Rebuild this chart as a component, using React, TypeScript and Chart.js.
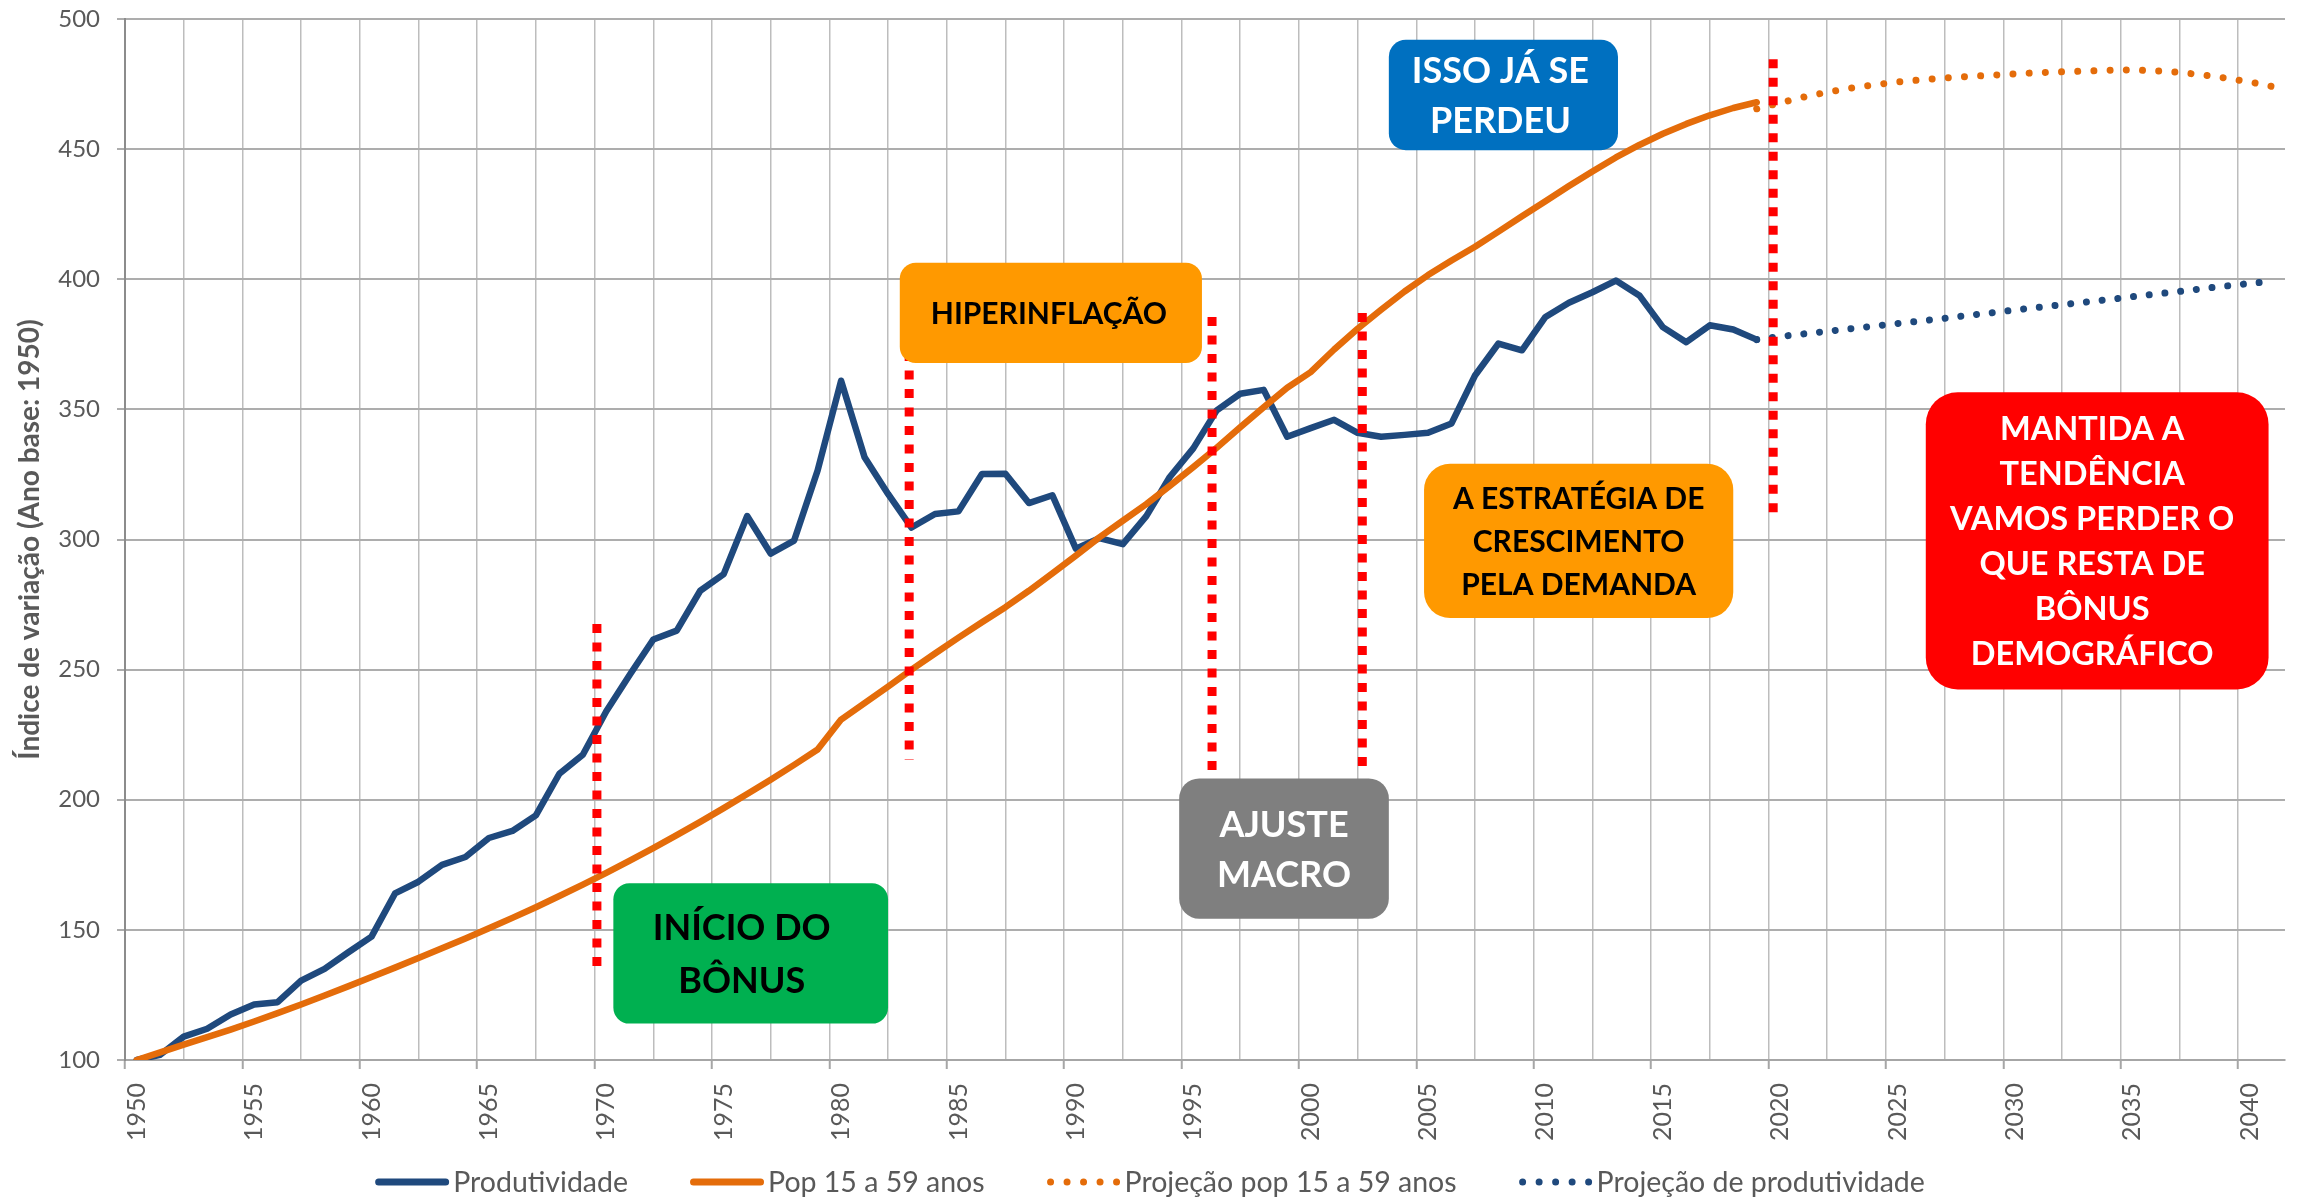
import React, { useEffect, useRef } from 'react';
import { Chart, registerables } from 'chart.js';

Chart.register(...registerables);

// ---------- DATA ----------
const YEARS_HIST = [
  1950, 1951, 1952, 1953, 1954, 1955, 1956, 1957, 1958, 1959,
  1960, 1961, 1962, 1963, 1964, 1965, 1966, 1967, 1968, 1969,
  1970, 1971, 1972, 1973, 1974, 1975, 1976, 1977, 1978, 1979,
  1980, 1981, 1982, 1983, 1984, 1985, 1986, 1987, 1988, 1989,
  1990, 1991, 1992, 1993, 1994, 1995, 1996, 1997, 1998, 1999,
  2000, 2001, 2002, 2003, 2004, 2005, 2006, 2007, 2008, 2009,
  2010, 2011, 2012, 2013, 2014, 2015, 2016, 2017, 2018, 2019,
];

const PRODUTIVIDADE = [
  100, 102, 109, 112, 117.5, 121.3, 122.2, 130.5, 135, 141.3,
  147.4, 164, 168.5, 175, 178, 185.3, 188, 194, 210, 217.3,
  234, 248, 261.6, 265, 280.3, 286.7, 309, 294.6, 299.6, 326.5,
  361, 331.6, 317.5, 304.6, 309.8, 310.8, 325.2, 325.3, 314, 317,
  296.5, 300.5, 298.2, 309, 324, 335, 349.6, 356, 357.5, 339.5,
  342.8, 346, 341, 339.5, 340.2, 341, 344.6, 363, 375.3, 372.7,
  385.5, 391, 395, 399.5, 393.8, 381.6, 375.8, 382.3, 380.7, 376.8,
];

const POP_15_59 = [
  100, 102.9, 105.9, 108.8, 111.7, 114.8, 118.0, 121.3, 124.8, 128.3,
  131.9, 135.5, 139.2, 142.9, 146.7, 150.6, 154.6, 158.7, 163.0, 167.4,
  171.9, 176.6, 181.4, 186.4, 191.5, 196.8, 202.2, 207.7, 213.4, 219.3,
  230.8, 237.1, 243.5, 250.0, 256.2, 262.3, 268.2, 274.0, 280.3, 287.0,
  293.8, 300.8, 307.2, 313.6, 320.6, 327.8, 335.3, 343.1, 350.8, 358.3,
  364.3, 373.0, 381.0, 388.3, 395.3, 401.6, 407.2, 412.5, 418.3, 424.2,
  430.0, 435.8, 441.4, 446.8, 451.6, 455.9, 459.7, 463.0, 465.8, 468.0,
];

const YEARS_PROJ = [
  2019, 2020, 2021, 2022, 2023, 2024, 2025, 2026, 2027, 2028, 2029, 2030,
  2031, 2032, 2033, 2034, 2035, 2036, 2037, 2038, 2039, 2040, 2041,
];

const PROJ_POP = [
  465.5, 467.8, 470.0, 471.9, 473.4, 474.7, 475.8, 476.6, 477.3, 477.9, 478.4, 478.9,
  479.4, 479.7, 480.0, 480.3, 480.4, 480.1, 479.5, 478.5, 477.3, 475.8, 474.0,
];

const PROJ_PROD = [
  376.8, 378.0, 379.0, 380.0, 381.0, 382.0, 383.0, 384.0, 385.0, 386.1, 387.1, 388.2,
  389.2, 390.2, 391.2, 392.2, 393.3, 394.3, 395.3, 396.4, 397.4, 398.4, 399.2,
];

const X_TICK_LABELS = [
  '1950', '1955', '1960', '1965', '1970', '1975', '1980', '1985', '1990', '1995',
  '2000', '2005', '2010', '2015', '2020', '2025', '2030', '2035', '2040',
];

const SERIES_LABELS = [
  'Produtividade',
  'Pop 15 a 59 anos',
  'Projeção pop 15 a 59 anos',
  'Projeção de produtividade',
];

const Y_TITLE = 'Índice de variação (Ano base: 1950)';

// red dashed markers: year, top value, bottom value
const MARKER_YEARS = [1969.6, 1982.9, 1995.8, 2002.2, 2019.7];
const MARKER_TOPS = [267.5, 372, 385.5, 387, 484.5];
const MARKER_BOTTOMS = [135.5, 215.5, 211, 212.5, 310];

// annotation boxes (in data coordinates)
const NOTE_TEXTS = [
  ['ISSO JÁ SE', 'PERDEU'],
  ['HIPERINFLAÇÃO'],
  ['A ESTRATÉGIA DE', 'CRESCIMENTO', 'PELA DEMANDA'],
  ['MANTIDA A', 'TENDÊNCIA', 'VAMOS PERDER O', 'QUE RESTA DE', 'BÔNUS', 'DEMOGRÁFICO'],
  ['AJUSTE', 'MACRO'],
  ['INÍCIO DO', 'BÔNUS'],
];
const NOTE_BOUNDS = [
  [2003.33, 2013.09, 492.0, 449.6],
  [1982.5, 1995.37, 406.3, 367.8],
  [2004.83, 2018.0, 329.1, 269.8],
  [2026.2, 2040.8, 356.6, 242.4],
  [1994.4, 2003.33, 208.2, 154.3],
  [1970.3, 1982.0, 167.9, 114.0],
];
const NOTE_STYLES = [
  { fill: '#0070C0', color: '#FFFFFF', size: 36, lh: 50, r: 17, dx: -3 },
  { fill: '#FF9900', color: '#000000', size: 30, lh: 40, r: 16, dx: -2 },
  { fill: '#FF9900', color: '#000000', size: 30, lh: 43, r: 26, dx: 0 },
  { fill: '#FF0000', color: '#FFFFFF', size: 32.5, lh: 45, r: 32, dx: -5 },
  { fill: '#7F7F7F', color: '#FFFFFF', size: 36, lh: 50, r: 20, dx: 0 },
  { fill: '#00B050', color: '#000000', size: 36, lh: 53, r: 16, dx: -9 },
];

const BLUE = '#1F497D';
const ORANGE = '#E46C0A';
const TEXT_GRAY = '#595959';
const FONT = 'Lato, "Open Sans", sans-serif';

const overlayPlugin = {
  id: 'overlays',
  afterDatasetsDraw(chart: any) {
    const { ctx, scales } = chart;
    const x = scales.x;
    const y = scales.y;
    ctx.save();
    ctx.strokeStyle = '#FF0000';
    ctx.lineWidth = 9;
    ctx.lineCap = 'butt';
    ctx.setLineDash([9, 9.5]);
    MARKER_YEARS.forEach((yr, i) => {
      const px = x.getPixelForValue(yr);
      ctx.beginPath();
      ctx.moveTo(px, y.getPixelForValue(MARKER_TOPS[i]));
      ctx.lineTo(px, y.getPixelForValue(MARKER_BOTTOMS[i]));
      ctx.stroke();
    });
    ctx.restore();

    NOTE_TEXTS.forEach((lines, i) => {
      const [x0, x1, y0, y1] = NOTE_BOUNDS[i];
      const st = NOTE_STYLES[i];
      const left = x.getPixelForValue(x0);
      const right = x.getPixelForValue(x1);
      const top = y.getPixelForValue(y0);
      const bottom = y.getPixelForValue(y1);
      ctx.save();
      ctx.fillStyle = st.fill;
      ctx.beginPath();
      ctx.roundRect(left, top, right - left, bottom - top, st.r);
      ctx.fill();
      ctx.fillStyle = st.color;
      ctx.font = `bold ${st.size}px ${FONT}`;
      ctx.textAlign = 'center';
      ctx.textBaseline = 'alphabetic';
      const cx = (left + right) / 2 + st.dx;
      const cy = (top + bottom) / 2;
      const cap = st.size * 0.72;
      lines.forEach((t, k) => {
        const base = cy + (k - (lines.length - 1) / 2) * st.lh + cap / 2;
        ctx.fillText(t, cx, base);
      });
      ctx.restore();
    });
  },
  afterDraw(chart: any) {
    const { ctx } = chart;
    const ds = chart.data.datasets;
    ctx.save();
    ctx.font = `28.5px ${FONT}`;
    const lineLen = 74;
    const gap = 4;
    const itemGap = 62;
    const widths = ds.map((d: any) => ctx.measureText(d.label).width);
    const total = widths.reduce((a: number, w: number) => a + lineLen + gap + w, 0) + itemGap * (ds.length - 1);
    let xPos = (chart.width - total) / 2;
    const yc = chart.height - 17;
    ds.forEach((d: any, i: number) => {
      ctx.save();
      ctx.strokeStyle = d.borderColor;
      ctx.lineWidth = 7;
      ctx.lineCap = 'round';
      if (d.borderDash && d.borderDash.length) {
        ctx.setLineDash([0.001, 16.5]);
        ctx.beginPath();
        ctx.moveTo(xPos + 4, yc);
        ctx.lineTo(xPos + lineLen, yc);
        ctx.stroke();
      } else {
        ctx.setLineDash([]);
        ctx.beginPath();
        ctx.moveTo(xPos + 3.5, yc);
        ctx.lineTo(xPos + lineLen - 3.5, yc);
        ctx.stroke();
      }
      ctx.restore();
      ctx.fillStyle = TEXT_GRAY;
      ctx.textAlign = 'left';
      ctx.textBaseline = 'middle';
      ctx.fillText(d.label, xPos + lineLen + gap, yc + 1);
      xPos += lineLen + gap + widths[i] + itemGap;
    });
    ctx.restore();
  },
};

const GRID_VALUES: number[] = [];
X_TICK_LABELS.forEach((l) => {
  const v = Number(l) - 0.5;
  GRID_VALUES.push(v);
  if (v + 2.5 < 2041.5) GRID_VALUES.push(v + 2.5);
});

export default function App() {
  const ref = useRef<HTMLCanvasElement | null>(null);

  useEffect(() => {
    if (!ref.current) return;
    const toXY = (xs: number[], ys: number[]) => xs.map((v, i) => ({ x: v, y: ys[i] }));
    const chart = new Chart(ref.current, {
      type: 'line',
      data: {
        datasets: [
          {
            label: SERIES_LABELS[0],
            data: toXY(YEARS_HIST, PRODUTIVIDADE),
            borderColor: BLUE,
            backgroundColor: BLUE,
            borderWidth: 6.5,
            borderJoinStyle: 'round',
            borderCapStyle: 'round',
            pointRadius: 0,
            tension: 0,
            order: 3,
          },
          {
            label: SERIES_LABELS[1],
            data: toXY(YEARS_HIST, POP_15_59),
            borderColor: ORANGE,
            backgroundColor: ORANGE,
            borderWidth: 6.5,
            borderJoinStyle: 'round',
            borderCapStyle: 'round',
            pointRadius: 0,
            tension: 0,
            order: 1,
          },
          {
            label: SERIES_LABELS[2],
            data: toXY(YEARS_PROJ, PROJ_POP),
            borderColor: ORANGE,
            backgroundColor: ORANGE,
            borderWidth: 7,
            borderDash: [0.001, 16.2],
            borderCapStyle: 'round',
            pointRadius: 0,
            tension: 0,
            order: 2,
          },
          {
            label: SERIES_LABELS[3],
            data: toXY(YEARS_PROJ, PROJ_PROD),
            borderColor: BLUE,
            backgroundColor: BLUE,
            borderWidth: 7,
            borderDash: [0.001, 15.8],
            borderCapStyle: 'round',
            pointRadius: 0,
            tension: 0,
            order: 4,
          },
        ],
      },
      options: {
        animation: false,
        responsive: false,
        devicePixelRatio: 1,
        layout: { padding: { top: 19, right: 15, bottom: 49, left: 0 } },
        plugins: {
          legend: { display: false },
          tooltip: { enabled: false },
        },
        scales: {
          x: {
            type: 'linear',
            min: 1949.5,
            max: 2041.5,
            afterBuildTicks: (scale: any) => {
              scale.ticks = GRID_VALUES.map((v) => ({ value: v }));
            },
            afterFit: (scale: any) => {
              scale.height = 90;
            },
            ticks: {
              autoSkip: false,
              maxRotation: 90,
              minRotation: 90,
              padding: 14,
              labelOffset: 11.7,
              color: TEXT_GRAY,
              font: { family: FONT, size: 25 },
              callback: (value: any) => {
                const s = String(Number(value) + 0.5);
                return X_TICK_LABELS.includes(s) ? s : '';
              },
            },
            grid: {
              color: '#BDBDBD',
              lineWidth: 1.5,
              tickLength: 9,
              tickColor: (c: any) => {
                const v = c.tick ? c.tick.value : 0;
                return X_TICK_LABELS.includes(String(v + 0.5)) ? '#A6A6A6' : 'rgba(0,0,0,0)';
              },
              tickWidth: 2,
            },
            border: { display: true, color: '#A6A6A6', width: 2 },
          },
          y: {
            min: 100,
            max: 500,
            afterFit: (scale: any) => {
              scale.width = 125;
              scale.paddingTop = 0;
              scale.paddingBottom = 0;
            },
            ticks: {
              stepSize: 50,
              padding: 17,
              color: TEXT_GRAY,
              font: { family: FONT, size: 24 },
            },
            grid: {
              color: '#ADADAD',
              lineWidth: 2,
              tickLength: 8,
            },
            border: { display: true, color: '#8C8C8C', width: 2 },
            title: {
              display: true,
              text: Y_TITLE,
              color: TEXT_GRAY,
              font: { family: FONT, size: 28, weight: 'bold' },
              padding: { top: 13, bottom: 0 },
            },
          },
        },
      } as any,
      plugins: [overlayPlugin],
    });
    let alive = true;
    if ((document as any).fonts && (document as any).fonts.load) {
      Promise.all([
        (document as any).fonts.load(`24px Lato`),
        (document as any).fonts.load(`bold 24px Lato`),
      ]).then(() => {
        if (alive) chart.update();
      }).catch(() => {});
    }
    return () => {
      alive = false;
      chart.destroy();
    };
  }, []);

  return (
    <div style={{ position: 'absolute', left: 0, top: 0, width: 2300, height: 1199, background: '#FFFFFF' }}>
      <canvas ref={ref} width={2300} height={1199} style={{ display: 'block', width: 2300, height: 1199 }} />
    </div>
  );
}
